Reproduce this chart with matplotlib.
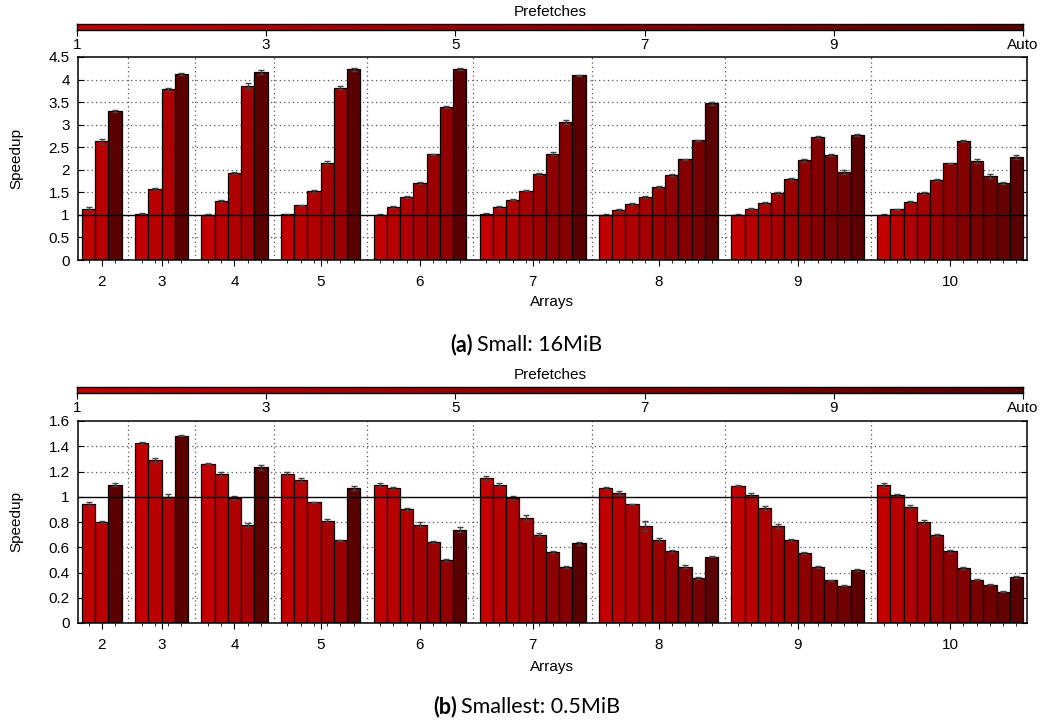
import numpy as np
import matplotlib
matplotlib.use("Agg")
import matplotlib.pyplot as plt
from matplotlib.colors import LinearSegmentedColormap

plt.rcParams['font.family'] = ['Liberation Sans', 'DejaVu Sans']

arrays = [2, 3, 4, 5, 6, 7, 8, 9, 10]
cbar_ticks = [1, 3, 5, 7, 9, 11]
cbar_labels = ['1', '3', '5', '7', '9', 'Auto']

small_speedup = [
    [1.14, 2.63, 3.31],
    [1.03, 1.58, 3.78, 4.12],
    [1.00, 1.31, 1.92, 3.86, 4.17],
    [1.01, 1.21, 1.52, 2.16, 3.82, 4.23],
    [1.00, 1.17, 1.39, 1.71, 2.34, 3.39, 4.23],
    [1.02, 1.17, 1.34, 1.54, 1.91, 2.36, 3.06, 4.09],
    [1.00, 1.11, 1.24, 1.39, 1.61, 1.88, 2.23, 2.65, 3.47],
    [0.99, 1.14, 1.27, 1.48, 1.79, 2.21, 2.73, 2.32, 1.95, 2.77],
    [1.00, 1.12, 1.28, 1.48, 1.78, 2.14, 2.63, 2.19, 1.86, 1.70, 2.29],
]
small_err = [
    [0.04, 0.06, 0.02],
    [0.02, 0.02, 0.03, 0.02],
    [0.02, 0.02, 0.02, 0.06, 0.05],
    [0.02, 0.02, 0.03, 0.03, 0.03, 0.03],
    [0.02, 0.02, 0.02, 0.02, 0.02, 0.03, 0.02],
    [0.02, 0.02, 0.02, 0.02, 0.02, 0.04, 0.04, 0.02],
    [0.02, 0.02, 0.02, 0.02, 0.02, 0.02, 0.02, 0.02, 0.03],
    [0.02, 0.02, 0.02, 0.02, 0.02, 0.03, 0.02, 0.02, 0.04, 0.02],
    [0.02, 0.02, 0.02, 0.02, 0.02, 0.02, 0.02, 0.04, 0.04, 0.02, 0.04],
]

smallest_speedup = [
    [0.94, 0.80, 1.095],
    [1.426, 1.29, 1.00, 1.484],
    [1.263, 1.179, 0.99, 0.776, 1.232],
    [1.18, 1.13, 0.955, 0.81, 0.655, 1.07],
    [1.09, 1.07, 0.90, 0.78, 0.64, 0.50, 0.74],
    [1.147, 1.097, 0.99, 0.83, 0.70, 0.563, 0.442, 0.63],
    [1.07, 1.03, 0.94, 0.77, 0.66, 0.57, 0.447, 0.355, 0.524],
    [1.087, 1.01, 0.913, 0.768, 0.658, 0.555, 0.445, 0.337, 0.295, 0.418],
    [1.09, 1.01, 0.918, 0.797, 0.697, 0.568, 0.437, 0.342, 0.303, 0.247, 0.366],
]
smallest_err = [
    [0.02, 0.01, 0.01],
    [0.005, 0.02, 0.02, 0.005],
    [0.005, 0.015, 0.015, 0.015, 0.02],
    [0.015, 0.015, 0.005, 0.01, 0.005, 0.015],
    [0.015, 0.005, 0.01, 0.02, 0.01, 0.01, 0.02],
    [0.02, 0.015, 0.015, 0.025, 0.01, 0.01, 0.01, 0.015],
    [0.01, 0.015, 0.005, 0.04, 0.015, 0.01, 0.01, 0.01, 0.005],
    [0.005, 0.02, 0.015, 0.015, 0.01, 0.01, 0.01, 0.005, 0.005, 0.01],
    [0.015, 0.015, 0.015, 0.015, 0.005, 0.01, 0.01, 0.005, 0.005, 0.005, 0.01],
]

c_lo = np.array([195, 0, 0]) / 255.0
c_hi = np.array([90, 0, 0]) / 255.0
cmap = LinearSegmentedColormap.from_list('pref', [c_lo, c_hi])


def pref_color(p):
    return cmap((p - 1) / 10.0)


W, H = 1048, 722
fig = plt.figure(figsize=(W / 100, H / 100), dpi=100)
FS = 11


def fx(px):
    return px / W


def fy(py):
    return 1 - py / H


def draw_panel(ax_top, ax_bot, cb_top, cb_bot, speed, err, ymax, ystep, yfmt,
               label_y, cap_y, cap_bold, cap_rest, cap_split):
    # colorbar
    cax = fig.add_axes([fx(77), fy(cb_bot), fx(1023) - fx(77), fy(cb_top) - fy(cb_bot)])
    grad = np.linspace(0, 1, 256).reshape(1, -1)
    cax.imshow(grad, cmap=cmap, aspect='auto', extent=[1, 11, 0, 1])
    cax.set_xlim(1, 11)
    cax.set_yticks([])
    cax.set_xticks(cbar_ticks)
    cax.set_xticklabels(cbar_labels, fontsize=FS)
    cax.tick_params(axis='x', direction='out', length=4, width=0.8, pad=1.5)
    for s in cax.spines.values():
        s.set_linewidth(1.0)
    fig.text(fx(550), fy(cb_top - 12), 'Prefetches', ha='center', va='center', fontsize=FS)

    ax = fig.add_axes([fx(78), fy(ax_bot), fx(1027) - fx(78), fy(ax_top) - fy(ax_bot)])
    pos = 0
    centers = []
    bounds = []
    allx = []
    for gi, n in enumerate(arrays):
        vals = speed[gi]
        errs = err[gi]
        xs = np.arange(pos, pos + n + 1)
        prefs = list(range(1, n + 1)) + [11]
        cols = [pref_color(p) for p in prefs]
        ax.bar(xs, vals, width=1.0, color=cols, edgecolor='black', linewidth=0.9, zorder=2)
        ax.errorbar(xs, vals, yerr=errs, fmt='none', ecolor='#444444', elinewidth=1.0,
                    capsize=2.2, capthick=1.0, zorder=3)
        centers.append(xs.mean())
        allx.extend(xs)
        if gi < len(arrays) - 1:
            bounds.append(pos + n + 1)
        pos += n + 2
    ax.set_xlim(-0.8, allx[-1] + 0.8)
    ax.set_ylim(0, ymax)
    yt = np.arange(0, ymax + 1e-9, ystep)
    ax.set_yticks(yt)
    ax.set_yticklabels([yfmt(v) for v in yt], fontsize=FS)
    for v in yt[1:-1]:
        if abs(v - 1) > 1e-9:
            ax.axhline(v, color='#555555', linestyle=(0, (1, 2.5)), linewidth=0.9, zorder=1)
    for b in bounds:
        ax.axvline(b, color='#555555', linestyle=(0, (1, 2.5)), linewidth=0.9, zorder=1)
    ax.axhline(1.0, color='black', linewidth=1.0, zorder=4)
    ax.set_xticks(centers)
    ax.set_xticklabels([str(a) for a in arrays], fontsize=FS)
    ax.set_xticks(allx, minor=True)
    ax.tick_params(axis='x', which='major', direction='out', length=4, width=0.8, pad=7)
    ax.tick_params(axis='x', which='minor', direction='out', length=2.5, width=0.6)
    ax.tick_params(axis='y', direction='in', length=4, width=0.8, right=True, pad=6)
    for s in ax.spines.values():
        s.set_linewidth(1.1)
    fig.text(fx(16), (fy(ax_top) + fy(ax_bot)) / 2, 'Speedup', rotation=90,
             ha='center', va='center', fontsize=FS)
    fig.text(fx(552), fy(label_y), 'Arrays', ha='center', va='center', fontsize=FS)
    fig.text(fx(cap_split), fy(cap_y), cap_bold, ha='right', va='center', fontsize=15.5,
             fontweight='bold', family=['Lato', 'DejaVu Sans'])
    fig.text(fx(cap_split + 4), fy(cap_y), cap_rest, ha='left', va='center', fontsize=15.5,
             family=['Lato', 'DejaVu Sans'])


def fmt_half(v):
    return ('%g' % round(v, 2))


draw_panel(57, 260, 24, 30, small_speedup, small_err, 4.5, 0.5, fmt_half,
           302, 345, '(a)', 'Small: 16MiB', 473)
draw_panel(421, 623, 387, 393, smallest_speedup, smallest_err, 1.6, 0.2, fmt_half,
           667, 707, '(b)', 'Smallest: 0.5MiB', 457)

fig.savefig('out.png', dpi=100)
